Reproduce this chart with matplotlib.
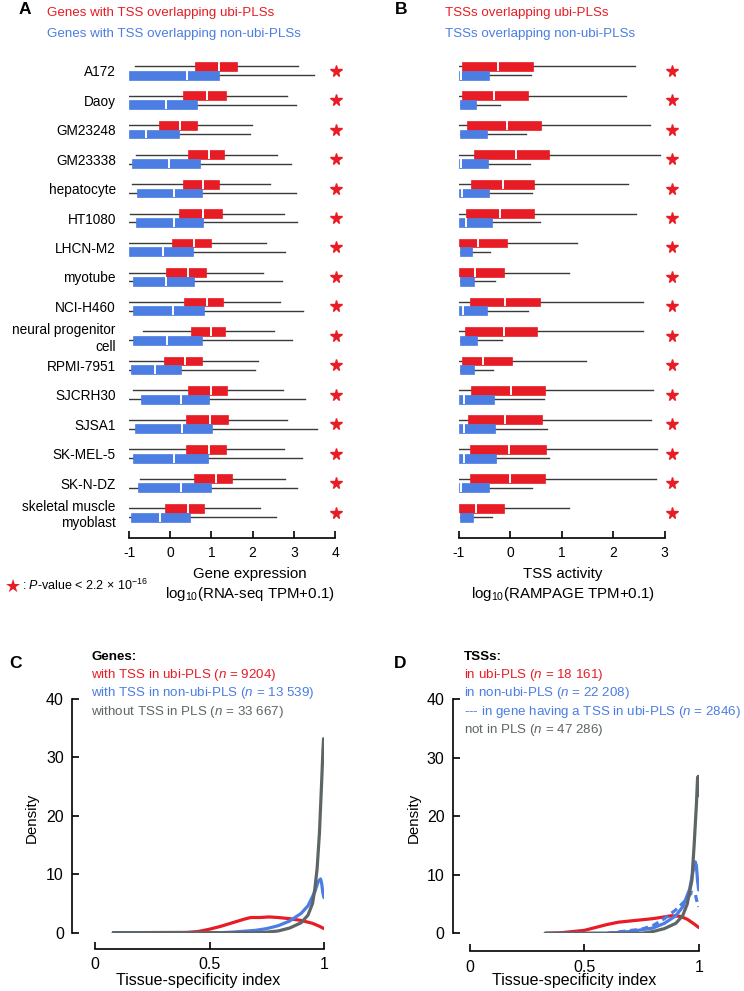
import matplotlib.pyplot as plt

plt.rcParams['font.family'] = ['Liberation Sans', 'DejaVu Sans']
plt.rcParams['mathtext.fontset'] = 'custom'
plt.rcParams['mathtext.rm'] = 'Liberation Sans'
plt.rcParams['mathtext.it'] = 'Liberation Sans:italic'
plt.rcParams['axes.unicode_minus'] = False

RED = '#E81C24'
BLUE = '#4B7DE3'
GRAY = '#5E6567'
WHISK = '#3A3A3A'

cell_lines = ['A172', 'Daoy', 'GM23248', 'GM23338', 'hepatocyte', 'HT1080',
              'LHCN-M2', 'myotube', 'NCI-H460', 'neural progenitor\ncell',
              'RPMI-7951', 'SJCRH30', 'SJSA1', 'SK-MEL-5', 'SK-N-DZ',
              'skeletal muscle\nmyoblast']

# box stats: [whisker low, q1, median, q3, whisker high]
genes_ubi = [[-0.85, 0.60, 1.18, 1.62, 3.10], [-1.0, 0.31, 0.89, 1.35, 2.83],
             [-1.0, -0.27, 0.24, 0.65, 1.99], [-0.83, 0.43, 0.94, 1.31, 2.59],
             [-0.93, 0.31, 0.80, 1.18, 2.42], [-0.98, 0.22, 0.80, 1.25, 2.75],
             [-1.0, 0.05, 0.58, 0.98, 2.33], [-1.0, -0.10, 0.44, 0.87, 2.26],
             [-1.0, 0.34, 0.90, 1.29, 2.67], [-0.67, 0.50, 0.99, 1.33, 2.52],
             [-1.0, -0.14, 0.36, 0.78, 2.12], [-0.91, 0.43, 0.99, 1.37, 2.73],
             [-1.0, 0.38, 0.97, 1.40, 2.84], [-1.0, 0.38, 0.95, 1.36, 2.77],
             [-0.73, 0.58, 1.10, 1.49, 2.79], [-1.0, -0.12, 0.42, 0.82, 2.17]]
genes_non = [[-1.0, -1.0, 0.41, 1.18, 3.49], [-1.0, -1.0, -0.10, 0.65, 3.05],
             [-1.0, -1.0, -0.59, 0.21, 1.94], [-1.0, -0.93, -0.03, 0.72, 2.93],
             [-1.0, -0.81, 0.09, 0.77, 3.05], [-1.0, -0.83, 0.10, 0.80, 3.07],
             [-1.0, -1.0, -0.17, 0.56, 2.79], [-1.0, -0.90, -0.11, 0.58, 2.71],
             [-1.0, -0.90, 0.08, 0.82, 3.22], [-1.0, -0.90, -0.07, 0.77, 2.95],
             [-1.0, -0.96, -0.36, 0.27, 2.05], [-1.0, -0.72, 0.26, 0.93, 3.27],
             [-1.0, -0.85, 0.29, 1.01, 3.57], [-1.0, -0.90, 0.09, 0.92, 3.19],
             [-1.0, -0.78, 0.26, 1.00, 3.08], [-1.0, -0.96, -0.25, 0.47, 2.57]]
tss_ubi = [[-1.0, -0.94, -0.24, 0.44, 2.43], [-1.0, -0.94, -0.32, 0.35, 2.25],
           [-1.0, -0.84, -0.06, 0.60, 2.71], [-1.0, -0.70, 0.11, 0.76, 2.90],
           [-1.0, -0.76, -0.14, 0.47, 2.28], [-1.0, -0.86, -0.20, 0.47, 2.44],
           [-1.0, -1.0, -0.62, -0.06, 1.30], [-1.0, -1.0, -0.68, -0.13, 1.14],
           [-1.0, -0.79, -0.10, 0.58, 2.58], [-1.0, -0.88, -0.12, 0.52, 2.58],
           [-1.0, -0.94, -0.53, 0.04, 1.47], [-1.0, -0.76, 0.02, 0.68, 2.77],
           [-1.0, -0.82, -0.10, 0.62, 2.73], [-1.0, -0.79, -0.03, 0.69, 2.86],
           [-1.0, -0.79, 0.00, 0.67, 2.83], [-1.0, -1.0, -0.66, -0.13, 1.14]]
tss_non = [[-1.0, -1.0, -0.96, -0.42, 0.41], [-1.0, -0.98, -1.0, -0.66, -0.19],
           [-1.0, -0.98, -1.0, -0.46, 0.31], [-1.0, -1.0, -0.95, -0.43, 0.39],
           [-1.0, -1.0, -0.94, -0.42, 0.42], [-1.0, -1.0, -0.86, -0.35, 0.57],
           [-1.0, -0.97, -1.0, -0.75, -0.39], [-1.0, -0.97, -1.0, -0.70, -0.30],
           [-1.0, -1.0, -0.92, -0.45, 0.34], [-1.0, -0.97, -1.0, -0.64, -0.15],
           [-1.0, -0.97, -1.0, -0.70, -0.33], [-1.0, -1.0, -0.89, -0.32, 0.66],
           [-1.0, -1.0, -0.90, -0.30, 0.71], [-1.0, -1.0, -0.89, -0.28, 0.75],
           [-1.0, -1.0, -0.95, -0.42, 0.42], [-1.0, -0.98, -1.0, -0.73, -0.35]]

# density curves (tissue-specificity index)
c_ubi_x = [0.08, 0.40, 0.45, 0.50, 0.55, 0.60, 0.65, 0.68, 0.72, 0.76, 0.80, 0.85, 0.90, 0.95, 0.98, 1.0]
c_ubi_y = [0.0, 0.05, 0.2, 0.6, 1.1, 1.7, 2.3, 2.6, 2.6, 2.7, 2.6, 2.4, 2.1, 1.6, 1.1, 0.7]
c_non_x = [0.08, 0.55, 0.60, 0.70, 0.75, 0.80, 0.85, 0.90, 0.93, 0.96, 0.975, 0.985, 0.99, 0.995, 1.0]
c_non_y = [0.0, 0.0, 0.1, 0.4, 0.7, 1.2, 2.0, 3.3, 4.6, 7.0, 8.8, 9.2, 8.4, 6.8, 6.0]
c_none_x = [0.08, 0.70, 0.75, 0.80, 0.85, 0.90, 0.93, 0.95, 0.96, 0.97, 0.98, 0.99, 0.995, 0.998, 1.0]
c_none_y = [0.0, 0.0, 0.1, 0.3, 0.8, 1.7, 3.0, 5.0, 7.5, 11.0, 17.0, 26.0, 31.0, 33.2, 30.0]

d_ubi_x = [0.33, 0.40, 0.50, 0.55, 0.60, 0.65, 0.70, 0.75, 0.80, 0.85, 0.88, 0.92, 0.95, 0.98, 1.0]
d_ubi_y = [0.0, 0.1, 0.5, 1.0, 1.5, 1.9, 2.1, 2.3, 2.5, 2.8, 3.0, 2.9, 2.4, 1.6, 1.0]
d_non_x = [0.33, 0.60, 0.70, 0.80, 0.85, 0.90, 0.93, 0.96, 0.975, 0.985, 0.99, 0.995, 1.0]
d_non_y = [0.0, 0.0, 0.3, 0.9, 1.7, 3.0, 4.5, 7.5, 10.5, 12.2, 11.5, 9.0, 7.4]
d_gene_x = [0.60, 0.75, 0.80, 0.85, 0.90, 0.94, 0.97, 0.985, 0.99, 1.0]
d_gene_y = [0.0, 0.7, 1.3, 2.5, 4.0, 5.5, 7.0, 6.8, 5.8, 4.5]
d_none_x = [0.33, 0.75, 0.80, 0.85, 0.90, 0.93, 0.95, 0.97, 0.98, 0.99, 0.995, 0.998, 1.0]
d_none_y = [0.0, 0.0, 0.3, 0.8, 1.7, 3.0, 5.0, 9.0, 15.0, 22.0, 26.5, 26.8, 23.5]

W, H = 744, 991
fig = plt.figure(figsize=(W / 100, H / 100), dpi=100)


def px(x, y):
    return x / W, 1 - y / H


def rect(left, top, right, bottom):
    return [left / W, 1 - bottom / H, (right - left) / W, (bottom - top) / H]


def stats(rows):
    return [dict(whislo=r[0], q1=r[1], med=r[2], q3=r[3], whishi=r[4], fliers=[]) for r in rows]


def box_panel(ax, ubi, non, xmax, star_x, labels):
    pos = list(range(len(ubi)))
    for data, col, off in [(ubi, RED, -0.15), (non, BLUE, 0.15)]:
        ax.bxp(stats(data), positions=[p + off for p in pos], widths=0.3,
               orientation='horizontal', patch_artist=True, showcaps=False,
               showfliers=False, manage_ticks=False,
               boxprops=dict(facecolor=col, edgecolor=col, linewidth=0.5, zorder=2),
               whiskerprops=dict(color=WHISK, linewidth=1.0, zorder=1),
               medianprops=dict(color='white', linewidth=1.4, zorder=3))
    ax.plot([star_x] * len(pos), pos, ls='none', marker='*', ms=8.5,
            color=RED, mec=RED, clip_on=False)
    ax.set_ylim(15.86, -0.635)
    ax.set_xlim(-1, xmax)
    ax.set_xticks(range(-1, xmax + 1))
    ax.set_yticks(pos)
    if labels:
        ax.set_yticklabels(labels, fontsize=9.8, ha='right', multialignment='right')
    else:
        ax.set_yticklabels([])
    ax.tick_params(axis='y', length=0, pad=9.5)
    ax.tick_params(axis='x', direction='in', length=5, width=1.2, labelsize=10, pad=6)
    for s in ['left', 'right', 'top']:
        ax.spines[s].set_visible(False)
    ax.spines['bottom'].set_linewidth(1.2)


axA = fig.add_axes(rect(129, 52, 335, 538))
box_panel(axA, genes_ubi, genes_non, 4, 4.02, cell_lines)
axB = fig.add_axes(rect(458.7, 52, 664.7, 538))
box_panel(axB, tss_ubi, tss_non, 3, 3.14, None)

fs = 9.6
fig.text(*px(25, 10), 'A', fontsize=12.5, fontweight='bold', ha='center', va='center')
fig.text(*px(47, 13), 'Genes with TSS overlapping ubi-PLSs', color=RED, fontsize=fs, va='center')
fig.text(*px(47, 34), 'Genes with TSS overlapping non-ubi-PLSs', color=BLUE, fontsize=fs, va='center')
fig.text(*px(401, 10), 'B', fontsize=12.5, fontweight='bold', ha='center', va='center')
fig.text(*px(445, 13), 'TSSs overlapping ubi-PLSs', color=RED, fontsize=fs, va='center')
fig.text(*px(445, 34), 'TSSs overlapping non-ubi-PLSs', color=BLUE, fontsize=fs, va='center')

fig.text(*px(250, 574), 'Gene expression', fontsize=10.8, ha='center', va='center')
fig.text(*px(250, 594), r'log$_{10}$(RNA-seq TPM+0.1)', fontsize=10.8, ha='center', va='center')
fig.text(*px(563, 574), 'TSS activity', fontsize=10.8, ha='center', va='center')
fig.text(*px(563, 594), r'log$_{10}$(RAMPAGE TPM+0.1)', fontsize=10.8, ha='center', va='center')

fig.text(*px(13, 587), '\u2605', color=RED, fontsize=13, ha='center', va='center',
         family=['DejaVu Sans'])
fig.text(*px(22, 585), r': $\mathit{P}$-value < 2.2 × 10$^{-16}$', fontsize=9, va='center')


def density_panel(ax, curves, left_out, bottom_out):
    for x, y, col, ls in curves:
        ax.plot(x, y, color=col, lw=2.3, ls=ls, solid_capstyle='round')
    ax.set_xlim(0, 1)
    ax.set_ylim(0, 40)
    ax.set_xticks([0, 0.5, 1])
    ax.set_xticklabels(['0', '0.5', '1'])
    ax.set_yticks([0, 10, 20, 30, 40])
    ax.spines['left'].set_position(('outward', left_out))
    ax.spines['bottom'].set_position(('outward', bottom_out))
    for s in ['right', 'top']:
        ax.spines[s].set_visible(False)
    for s in ['left', 'bottom']:
        ax.spines[s].set_linewidth(1.2)
    ax.tick_params(direction='in', length=5, width=1.2, labelsize=11.5, pad=6)
    ax.patch.set_visible(False)


axC = fig.add_axes(rect(95, 699, 324, 932.7))
density_panel(axC, [(c_ubi_x, c_ubi_y, RED, '-'), (c_non_x, c_non_y, BLUE, '-'),
                    (c_none_x, c_none_y, GRAY, '-')], 16.5, 11.5)
axD = fig.add_axes(rect(469.7, 699, 698.7, 933.3))
density_panel(axD, [(d_ubi_x, d_ubi_y, RED, '-'), (d_non_x, d_non_y, BLUE, '-'),
                    (d_gene_x, d_gene_y, BLUE, (0, (2.2, 1.4))),
                    (d_none_x, d_none_y, GRAY, '-')], 12, 13)

fig.text(*px(16, 664), 'C', fontsize=12.5, fontweight='bold', ha='center', va='center')
fig.text(*px(91, 657.5), 'Genes:', fontsize=fs, fontweight='bold', va='center')
fig.text(*px(91, 675), r'with TSS in ubi-PLS ($\mathit{n}$ = 9204)', color=RED, fontsize=fs, va='center')
fig.text(*px(91, 693), r'with TSS in non-ubi-PLS ($\mathit{n}$ = 13 539)', color=BLUE, fontsize=fs, va='center')
fig.text(*px(91, 712), r'without TSS in PLS ($\mathit{n}$ = 33 667)', color=GRAY, fontsize=fs, va='center')
fig.text(*px(32, 818), 'Density', fontsize=10.8, rotation=90, ha='center', va='center')
fig.text(*px(198, 981), 'Tissue-specificity index', fontsize=11.5, ha='center', va='center')

fig.text(*px(400, 664), 'D', fontsize=12.5, fontweight='bold', ha='center', va='center')
fig.text(*px(464, 657.5), 'TSSs:', fontsize=fs, fontweight='bold', va='center')
fig.text(*px(464, 675), r'in ubi-PLS ($\mathit{n}$ = 18 161)', color=RED, fontsize=fs, va='center')
fig.text(*px(464, 693), r'in non-ubi-PLS ($\mathit{n}$ = 22 208)', color=BLUE, fontsize=fs, va='center')
fig.text(*px(464, 712), r'--- in gene having a TSS in ubi-PLS ($\mathit{n}$ = 2846)', color=BLUE, fontsize=fs, va='center')
fig.text(*px(464, 730), r'not in PLS ($\mathit{n}$ = 47 286)', color=GRAY, fontsize=fs, va='center')
fig.text(*px(414, 818), 'Density', fontsize=10.8, rotation=90, ha='center', va='center')
fig.text(*px(574, 981), 'Tissue-specificity index', fontsize=11.5, ha='center', va='center')

fig.savefig('out.png', dpi=100)
